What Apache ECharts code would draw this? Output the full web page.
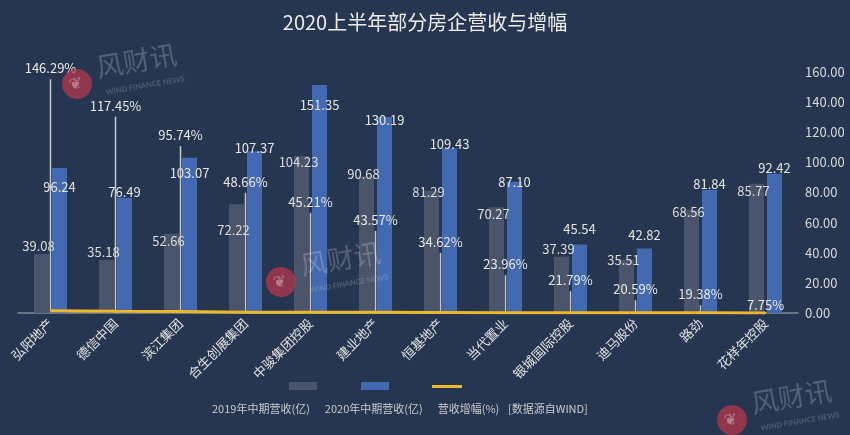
<!DOCTYPE html>
<html>
<head>
<meta charset="utf-8">
<script src="https://cdn.jsdelivr.net/npm/echarts@6/dist/echarts.min.js"></script>
<style>
html,body{margin:0;padding:0;background:#273650;}
#main{width:850px;height:435px;}
</style>
</head>
<body>
<div id="main"></div>
<script>
// ---- data ----
const categories = ['弘阳地产','德信中国','滨江集团','合生创展集团','中骏集团控股','建业地产','恒基地产','当代置业','银城国际控股','迪马股份','路劲','花样年控股'];
const revenue2019 = [39.08, 35.18, 52.66, 72.22, 104.23, 90.68, 81.29, 70.27, 37.39, 35.51, 68.56, 85.77];
const revenue2020 = [96.24, 76.49, 103.07, 107.37, 151.35, 130.19, 109.43, 87.10, 45.54, 42.82, 81.84, 92.42];
const growthPct = [146.29, 117.45, 95.74, 48.66, 45.21, 43.57, 34.62, 23.96, 21.79, 20.59, 19.38, 7.75];
const seriesNames = ['2019年中期营收(亿)', '2020年中期营收(亿)', '营收增幅(%)'];
const titleText = '2020上半年部分房企营收与增幅';
const sourceText = '[数据源自WIND]';

// ---- label layout (hand-placed labels in the original) ----
const dy2019 = [-2, -1, 14, 32, 13, 4, 8, 13, -1, 7, 9, 14];
const dy2020 = [26, 1, 22, 3, 27, 10, 2, 7, -9, -7, 1, 1];
const pctLift = [235, 198, 169, 123, 103, 85, 63, 41, 25, 16, 11, 0];

const FONT = '"Noto Sans CJK SC", "Noto Sans", sans-serif';

function watermark(cx, cy) {
  return {
    type: 'group', x: cx, y: cy, rotation: 0.17, silent: true, z: 100,
    children: [
      { type: 'circle', z: 100, shape: { cx: 0, cy: 0, r: 15 }, style: { fill: 'rgba(190,55,75,0.7)' } },
      { type: 'text', z: 100, x: -1, y: 0, style: { text: '❦', fill: 'rgba(255,255,255,0.35)', font: '16px sans-serif', align: 'center', verticalAlign: 'middle' } },
      { type: 'text', z: 100, x: 22, y: -13, style: { text: '风财讯', fill: 'rgba(255,255,255,0.2)', font: '27px "Noto Sans CJK SC"', verticalAlign: 'middle' } },
      { type: 'text', z: 100, x: 27, y: 13, style: { text: 'WIND FINANCE NEWS', fill: 'rgba(255,255,255,0.18)', font: 'bold 7.5px Lato, sans-serif', verticalAlign: 'middle' } }
    ]
  };
}

const chart = echarts.init(document.getElementById('main'), null, { renderer: 'canvas' });
const option = {
  backgroundColor: '#273650',
  textStyle: { fontFamily: FONT },
  animation: false,
  title: {
    text: titleText, left: 'center', top: 7,
    textStyle: { color: '#ececec', fontSize: 20, fontWeight: 'normal', fontFamily: FONT }
  },
  legend: [
    {
      data: [seriesNames[0], seriesNames[1]], left: 284, top: 377, itemWidth: 28, itemHeight: 8, itemGap: 44,
      icon: 'rect', formatter: () => '', textStyle: { fontSize: 1 }
    },
    {
      data: [seriesNames[2]], left: 427, top: 380, itemWidth: 30, itemHeight: 3,
      icon: 'rect', formatter: () => '', textStyle: { fontSize: 1 }
    },
    {
      data: seriesNames, left: 202, top: 398, itemWidth: 0, itemHeight: 0, itemGap: 10,
      textStyle: { color: '#c9c9c9', fontSize: 11, fontFamily: FONT }
    }
  ],
  grid: { left: 18, right: 52, top: 72, bottom: 122 },
  xAxis: {
    type: 'category', data: categories,
    axisLine: { lineStyle: { color: '#7f8a9c', width: 1.5 } },
    axisTick: { show: false },
    axisLabel: { interval: 0, rotate: 45, color: '#e0e0e0', fontSize: 13, margin: 8, fontFamily: FONT }
  },
  yAxis: [
    {
      type: 'value', position: 'right', min: 0, max: 160, interval: 20,
      axisLine: { show: false }, axisTick: { show: false }, splitLine: { show: false },
      axisLabel: { formatter: v => v.toFixed(2), color: '#d8d8d8', fontSize: 13, margin: 7, fontFamily: FONT }
    },
    { type: 'value', min: 0, max: 16000, show: false }
  ],
  series: [
    {
      name: seriesNames[0], type: 'bar', data: revenue2019,
      barWidth: 15, barGap: '20%',
      itemStyle: { color: '#4a546a' },
      label: { show: true, position: 'top', distance: 0, color: '#dcdcdc', fontSize: 13, fontFamily: FONT,
        formatter: p => p.value.toFixed(2) },
      labelLayout: p => ({ dy: dy2019[p.dataIndex], dx: -3 }),
      z: 2
    },
    {
      name: seriesNames[1], type: 'bar', data: revenue2020,
      barWidth: 15,
      itemStyle: { color: '#436ab0' },
      label: { show: true, position: 'top', distance: 0, color: '#e6e6e6', fontSize: 13, fontFamily: FONT,
        formatter: p => p.value.toFixed(2) },
      labelLayout: p => ({ dy: dy2020[p.dataIndex] }),
      z: 2
    },
    {
      name: seriesNames[2], type: 'custom', coordinateSystem: 'cartesian2d', yAxisIndex: 1,
      data: growthPct.map((v, i) => [i, v]), encode: { x: 0, y: 1 }, silent: true, z: 4,
      itemStyle: { color: '#ecb82a' },
      renderItem: (params, api) => {
        const p = api.coord([api.value(0), api.value(1)]);
        const lift = pctLift[params.dataIndex];
        if (lift < 8) return null;
        return { type: 'line', shape: { x1: p[0], y1: p[1] - 1, x2: p[0], y2: p[1] - lift + 3.5 },
          style: { stroke: '#c8c8c8', lineWidth: 1.5 } };
      }
    },
    {
      name: seriesNames[2], type: 'line', yAxisIndex: 1, data: growthPct,
      symbol: 'circle', symbolSize: 2, showSymbol: true,
      lineStyle: { color: '#ecb82a', width: 3 },
      itemStyle: { color: '#ecb82a' },
      label: { show: true, position: 'top', distance: 0, color: '#e8e8e8', fontSize: 13, fontFamily: FONT,
        formatter: p => p.value.toFixed(2) + '%' },
      labelLayout: p => ({ dy: -pctLift[p.dataIndex] }),
      z: 5
    }
  ],
  graphic: [
    { type: 'text', x: 508, y: 409, style: { text: sourceText, fill: '#c9c9c9', fontSize: 11, fontFamily: FONT, verticalAlign: 'middle' } },
    watermark(77, 84),
    watermark(281, 282),
    watermark(732, 420)
  ]
};
chart.setOption(option);
</script>
</body>
</html>
